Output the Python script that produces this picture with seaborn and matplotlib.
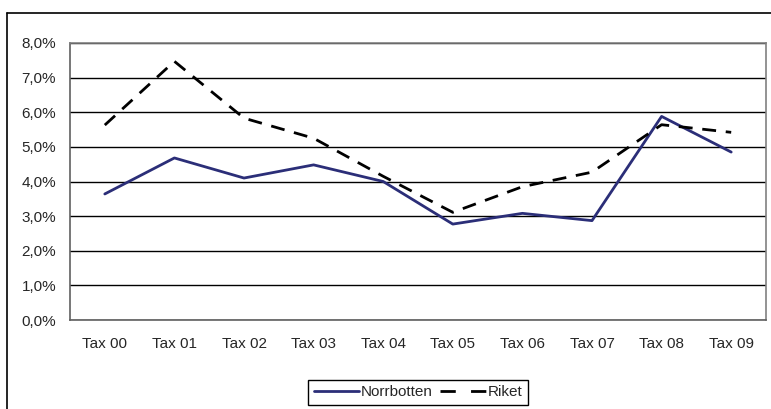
import pandas as pd
import seaborn as sns
import matplotlib.pyplot as plt
from matplotlib.lines import Line2D
from matplotlib.ticker import FuncFormatter, FixedLocator

years = ['Tax 00', 'Tax 01', 'Tax 02', 'Tax 03', 'Tax 04',
         'Tax 05', 'Tax 06', 'Tax 07', 'Tax 08', 'Tax 09']
norrbotten = [3.64, 4.68, 4.10, 4.48, 4.00, 2.77, 3.08, 2.87, 5.88, 4.85]
riket = [5.63, 7.47, 5.83, 5.25, 4.15, 3.11, 3.85, 4.27, 5.64, 5.42]

df = pd.DataFrame({'pos': list(range(len(years))) * 2,
                   'value': norrbotten + riket,
                   'serie': ['Norrbotten'] * len(years) + ['Riket'] * len(years)})

sns.set_style('white')
plt.rcParams['font.family'] = ['Liberation Sans', 'DejaVu Sans']

fig = plt.figure(figsize=(7.71, 4.09), dpi=100)
ax = fig.add_axes([70 / 771, 1 - 320 / 409, 696 / 771, 277 / 409])

navy = '#2b2e78'
sns.lineplot(data=df[df.serie == 'Norrbotten'], x='pos', y='value', ax=ax,
             color=navy, lw=2, legend=False)
sns.lineplot(data=df[df.serie == 'Riket'], x='pos', y='value', ax=ax,
             color='black', lw=2, dashes=False, legend=False)
ax.lines[1].set_dashes((5, 3.5))

ax.set_xlim(-0.5, len(years) - 0.5)
ax.set_ylim(0, 8)
ax.set_yticks(range(0, 9))
ax.yaxis.set_major_formatter(FuncFormatter(lambda v, p: f'{v:.1f}%'.replace('.', ',')))
ax.set_xticks(range(len(years)))
ax.set_xticklabels(years)
ax.xaxis.set_minor_locator(FixedLocator([i - 0.5 for i in range(len(years) + 1)]))
ax.tick_params(axis='x', which='major', length=0, pad=12, labelsize=11)
ax.tick_params(axis='x', which='minor', length=5, width=1, color='#606060', direction='out')
ax.tick_params(axis='y', length=5, width=1, color='#606060', direction='out', pad=5, labelsize=11)
ax.set_xlabel('')
ax.set_ylabel('')
ax.yaxis.grid(True, color='black', lw=1)
ax.set_axisbelow(True)
for s in ax.spines.values():
    s.set_color('#808080')
    s.set_linewidth(1.2)
ax.spines['left'].set_color('#606060')
ax.spines['bottom'].set_color('#606060')

# outer chart frame
fig.add_artist(Line2D([7 / 771, 1], [1 - 13 / 409] * 2, color='black', lw=1.2, transform=fig.transFigure))
fig.add_artist(Line2D([7 / 771] * 2, [0, 1 - 13 / 409], color='black', lw=1.2, transform=fig.transFigure))

handles = [Line2D([], [], color=navy, lw=2),
           Line2D([], [], color='black', lw=2, dashes=(5.5, 5.5))]
leg = fig.legend(handles, ['Norrbotten', 'Riket'], loc='upper center',
                 bbox_to_anchor=(418 / 771, 1 - 380 / 409), ncol=2, fontsize=11,
                 frameon=True, fancybox=False, edgecolor='black', framealpha=1,
                 handlelength=3.0, handletextpad=0.1, columnspacing=0.5,
                 borderpad=0.35, borderaxespad=0)
leg.get_frame().set_linewidth(1)

fig.savefig('out.png', dpi=100)
